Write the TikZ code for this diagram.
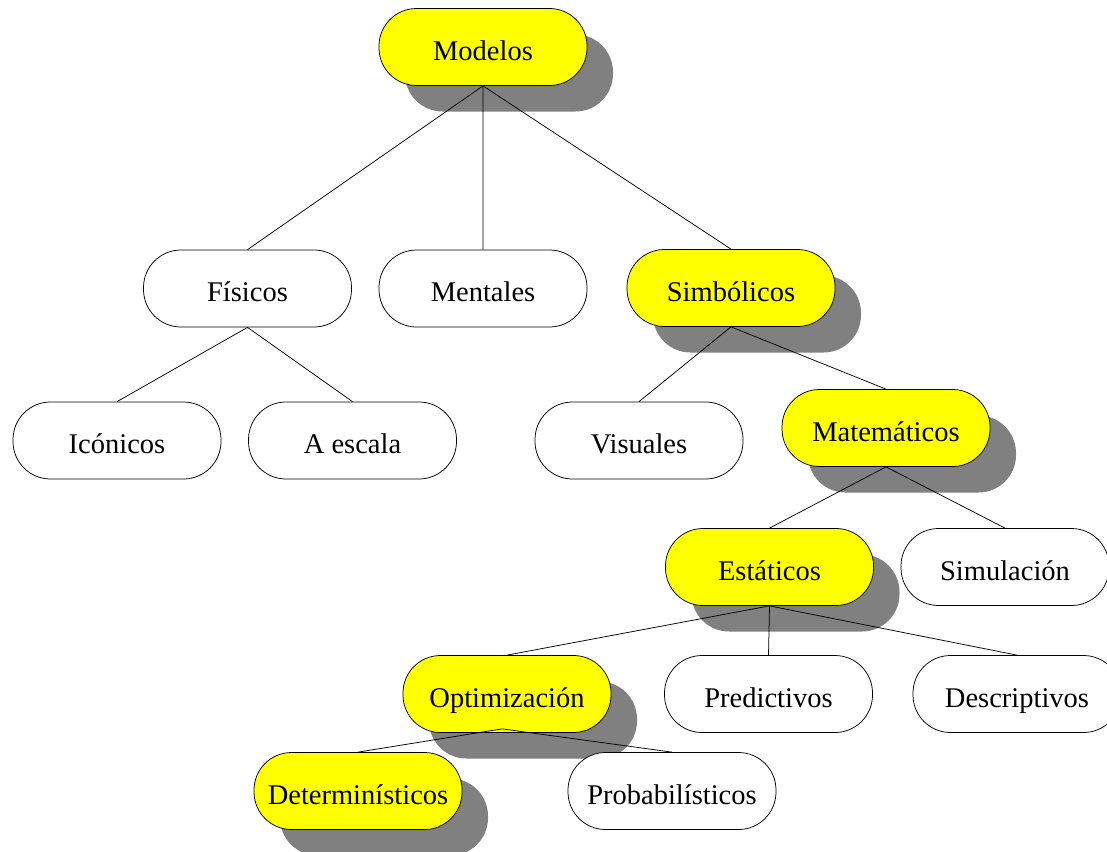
\documentclass[tikz,border=0pt]{standalone}
\usepackage{fontspec}
\setmainfont{Liberation Serif}
\usetikzlibrary{shadows}
\definecolor{pureyellow}{RGB}{255,255,0}
\definecolor{shadowgray}{RGB}{128,128,128}
\tikzset{
  box/.style={draw, line width=0.75pt, rounded corners=37.5pt,
    minimum width=208pt, minimum height=77pt, inner sep=0pt,
    text height=27pt, text depth=1pt,
    font=\fontsize{28.5}{34}\selectfont},
  yel/.style={box, fill=pureyellow,
    drop shadow={shadow xshift=26pt, shadow yshift=-26pt, fill=shadowgray, opacity=1, draw=none}},
  wht/.style={box, fill=white},
  edge/.style={line width=0.75pt}
}
\begin{document}
\begin{tikzpicture}[x=1pt,y=-1pt]
\useasboundingbox[fill=white] (0,0) rectangle (1107,851);
\node[yel] (mod) at (483,47) {Modelos};
\node[wht] (fis) at (247.5,288.5) {Físicos};
\node[wht] (men) at (483,288.5) {Mentales};
\node[yel] (sim) at (731,288) {Simbólicos};
\node[wht] (ico) at (117,440.5) {Icónicos};
\node[wht] (esc) at (352.5,440.5) {A escala};
\node[wht] (vis) at (639,440.5) {Visuales};
\node[yel] (mat) at (886,428) {Matemáticos};
\node[yel] (est) at (769.5,567) {Estáticos};
\node[wht] (simu) at (1005,567) {Simulación};
\node[yel] (opt) at (507,694) {Optimización};
\node[wht] (pre) at (768.5,694) {Predictivos};
\node[wht] (des) at (1017,694) {Descriptivos};
\node[yel] (det) at (358,791) {Determinísticos};
\node[wht] (pro) at (672,791) {Probabilísticos};
\draw[edge] (fis.north) -- (mod.south) -- (men.north);
\draw[edge] (mod.south) -- (sim.north);
\draw[edge] (ico.north) -- (fis.south) -- (esc.north);
\draw[edge] (vis.north) -- (sim.south) -- (mat.north);
\draw[edge] (est.north) -- (mat.south) -- (simu.north);
\draw[edge] (opt.north) -- (est.south) -- (pre.north);
\draw[edge] (est.south) -- (des.north);
\draw[edge] (det.north) -- ([xshift=-5pt,yshift=4pt]opt.south) -- (pro.north);
\end{tikzpicture}
\end{document}
